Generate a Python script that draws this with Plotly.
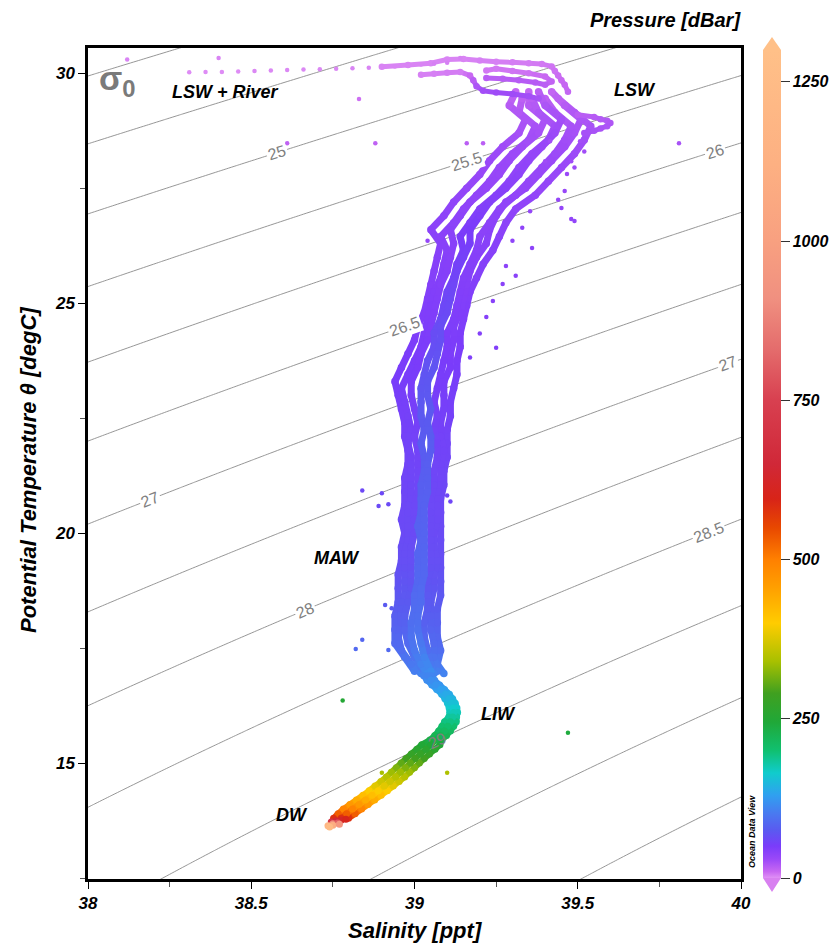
import numpy as np
import plotly.graph_objects as go
from plotly.colors import sample_colorscale

# ---------------- data ----------------
# main thermocline band (T > 17 degC): two interleaved temperature grids
T_grid_a = [29.6, 29.3, 29.0, 28.7, 28.4, 28.1, 27.8, 27.5, 27.2, 26.9, 26.6, 26.3, 26.0, 25.7, 25.4,
            25.1, 24.8, 24.5, 24.2, 23.9, 23.6, 23.3, 23.0, 22.7, 22.4, 22.1, 21.8, 21.5, 21.2, 20.9,
            20.6, 20.3, 20.0, 19.7, 19.4, 19.1, 18.8, 18.5, 18.2, 17.9, 17.6, 17.3, 17.0]
T_grid_b = [29.45, 29.15, 28.85, 28.55, 28.25, 27.95, 27.65, 27.35, 27.05, 26.75, 26.45, 26.15, 25.85,
            25.55, 25.25, 24.95, 24.65, 24.35, 24.05, 23.75, 23.45, 23.15, 22.85, 22.55, 22.25, 21.95,
            21.65, 21.35, 21.05, 20.75, 20.45, 20.15, 19.85, 19.55, 19.25, 18.95, 18.65, 18.35, 18.05,
            17.75, 17.45, 17.15, 16.95]
P_grid_a = [12, 18, 22, 25, 28, 30, 32, 34, 36, 38, 40, 41, 42, 43, 44, 45, 46, 47, 48, 49, 50, 51, 52,
            53, 54, 55, 56, 57, 58, 59, 60, 61, 62, 64, 66, 68, 71, 74, 78, 83, 88, 96, 105]
P_grid_b = [15, 20, 24, 27, 29, 31, 33, 35, 37, 39, 40, 42, 43, 44, 45, 46, 47, 48, 49, 50, 51, 52, 53,
            54, 55, 56, 57, 58, 59, 60, 61, 62, 63, 65, 67, 70, 73, 76, 80, 85, 91, 100, 108]
P_grid_core = [16, 22, 26, 29, 32, 35, 38, 41, 44, 47, 50, 52, 54, 56, 58, 60, 62, 64, 66, 68, 70, 72,
               73, 74, 75, 76, 77, 78, 79, 80, 81, 82, 83, 84, 85, 86, 88, 90, 92, 95, 100, 108, 115]

S_cast1 = [39.31, 39.29, 39.34, 39.32, 39.27, 39.23, 39.20, 39.16, 39.12, 39.09, 39.05, 39.08, 39.07, 39.06,
           39.05, 39.04, 39.03, 39.01, 39.00, 38.98, 38.96, 38.94, 38.95, 38.96, 38.97, 38.97, 38.98, 38.98,
           38.97, 38.97, 38.97, 38.96, 38.97, 38.96, 38.96, 38.95, 38.95, 38.95, 38.94, 38.94, 38.94, 38.97, 39.00]
S_cast2 = [39.33, 39.32, 39.37, 39.35, 39.30, 39.26, 39.23, 39.19, 39.15, 39.12, 39.08, 39.10, 39.09, 39.08,
           39.06, 39.05, 39.04, 39.03, 39.02, 39.00, 38.98, 38.96, 38.97, 38.98, 38.99, 38.98, 38.99, 38.99,
           38.99, 38.99, 38.98, 38.98, 38.98, 38.97, 38.97, 38.97, 38.97, 38.96, 38.96, 38.95, 38.96, 38.99, 39.02]
S_cast3 = [39.35, 39.35, 39.40, 39.38, 39.33, 39.29, 39.26, 39.22, 39.17, 39.14, 39.11, 39.12, 39.11, 39.10,
           39.08, 39.07, 39.06, 39.05, 39.04, 39.02, 39.01, 38.99, 38.99, 39.00, 39.01, 39.00, 39.01, 39.01,
           39.01, 39.01, 39.00, 39.00, 39.00, 38.99, 38.99, 38.99, 38.99, 38.98, 38.97, 38.97, 38.98, 39.00, 39.03]
S_cast4 = [39.36, 39.38, 39.43, 39.41, 39.36, 39.32, 39.29, 39.25, 39.20, 39.17, 39.14, 39.15, 39.13, 39.12,
           39.10, 39.09, 39.08, 39.06, 39.06, 39.04, 39.03, 39.02, 39.02, 39.02, 39.03, 39.02, 39.03, 39.03,
           39.02, 39.02, 39.02, 39.01, 39.02, 39.01, 39.01, 39.01, 39.00, 39.00, 38.99, 38.99, 39.00, 39.02, 39.04]
S_cast5 = [39.38, 39.40, 39.45, 39.43, 39.39, 39.35, 39.32, 39.28, 39.23, 39.20, 39.17, 39.17, 39.15, 39.13,
           39.12, 39.11, 39.10, 39.08, 39.08, 39.07, 39.06, 39.04, 39.04, 39.05, 39.04, 39.05, 39.05, 39.04,
           39.04, 39.04, 39.03, 39.03, 39.03, 39.03, 39.03, 39.03, 39.02, 39.02, 39.01, 39.01, 39.02, 39.03, 39.05]
S_cast6 = [39.40, 39.43, 39.48, 39.46, 39.43, 39.39, 39.35, 39.31, 39.26, 39.23, 39.20, 39.19, 39.17, 39.15,
           39.14, 39.13, 39.12, 39.10, 39.10, 39.09, 39.08, 39.07, 39.06, 39.07, 39.06, 39.07, 39.07, 39.06,
           39.06, 39.05, 39.05, 39.05, 39.05, 39.05, 39.05, 39.04, 39.04, 39.04, 39.03, 39.03, 39.04, 39.05, 39.06]
S_cast7 = [39.42, 39.46, 39.51, 39.49, 39.46, 39.42, 39.38, 39.34, 39.28, 39.25, 39.23, 39.22, 39.19, 39.17,
           39.16, 39.15, 39.14, 39.12, 39.12, 39.11, 39.11, 39.09, 39.09, 39.09, 39.08, 39.08, 39.09, 39.08,
           39.08, 39.07, 39.07, 39.07, 39.06, 39.06, 39.07, 39.06, 39.06, 39.05, 39.05, 39.05, 39.06, 39.06, 39.07]
S_cast8 = [39.44, 39.49, 39.54, 39.52, 39.49, 39.45, 39.41, 39.37, 39.31, 39.28, 39.26, 39.24, 39.21, 39.19,
           39.17, 39.16, 39.15, 39.14, 39.14, 39.13, 39.13, 39.12, 39.11, 39.11, 39.10, 39.10, 39.10, 39.09,
           39.09, 39.08, 39.08, 39.08, 39.08, 39.08, 39.08, 39.08, 39.08, 39.07, 39.07, 39.07, 39.08, 39.07, 39.09]

# LIW -> deep water branch (T < 17 degC)
T_lower = [16.9, 16.8, 16.7, 16.6, 16.5, 16.4, 16.3, 16.2, 16.1, 16.0, 15.9, 15.8, 15.7, 15.6, 15.5, 15.4,
           15.3, 15.2, 15.1, 15.0, 14.9, 14.8, 14.7, 14.6, 14.5, 14.4, 14.3, 14.2, 14.1, 14.0, 13.9, 13.8]
P_lower = [110, 116, 122, 130, 138, 146, 155, 164, 173, 183, 193, 203, 213, 223, 234, 246,
           260, 275, 290, 305, 320, 335, 350, 365, 380, 398, 418, 440, 465, 495, 530, 580]
S_lower_a = [39.028, 39.038, 39.053, 39.068, 39.083, 39.093, 39.101, 39.106, 39.108, 39.105, 39.092, 39.084,
             39.074, 39.062, 39.047, 39.022, 39.007, 38.990, 38.974, 38.959, 38.944, 38.929, 38.914, 38.897,
             38.879, 38.861, 38.842, 38.822, 38.802, 38.782, 38.766, 38.752]
S_lower_b = [39.040, 39.050, 39.065, 39.080, 39.095, 39.105, 39.113, 39.118, 39.120, 39.117, 39.110, 39.102,
             39.092, 39.080, 39.065, 39.050, 39.035, 39.018, 39.002, 38.987, 38.972, 38.957, 38.942, 38.925,
             38.907, 38.889, 38.870, 38.850, 38.830, 38.810, 38.792, 38.775]
S_lower_c = [39.052, 39.062, 39.077, 39.092, 39.107, 39.117, 39.125, 39.130, 39.132, 39.129, 39.128, 39.120,
             39.110, 39.098, 39.083, 39.078, 39.063, 39.046, 39.030, 39.015, 39.000, 38.985, 38.970, 38.953,
             38.935, 38.917, 38.898, 38.878, 38.858, 38.838, 38.818, 38.798]

# deepest end of the profiles (DW)
S_deep = [38.745, 38.760, 38.775, 38.790, 38.750, 38.765, 38.735, 38.750, 38.770, 38.740]
T_deep = [13.72, 13.74, 13.76, 13.78, 13.68, 13.70, 13.64, 13.65, 13.67, 13.61]
P_deep = [700, 650, 620, 600, 900, 800, 1200, 1100, 950, 1250]

# surface layer: LSW + river streak
S_surf = [38.31, 38.36, 38.41, 38.46, 38.51, 38.56, 38.61, 38.66, 38.71, 38.76, 38.81, 38.86, 38.90, 38.94,
          38.98, 39.02, 39.06, 39.10]
T_surf = [30.02, 30.03, 30.03, 30.04, 30.05, 30.06, 30.07, 30.08, 30.09, 30.10, 30.11, 30.12, 30.14, 30.15,
          30.17, 30.19, 30.21, 30.23]
P_surf = [1, 1, 1, 1, 2, 2, 2, 2, 2, 2, 3, 3, 3, 3, 3, 3, 4, 4]

# warm surface loops above the band
S_top1 = [38.90, 38.98, 39.05, 39.10, 39.15, 39.20, 39.25, 39.30, 39.35, 39.39, 39.42, 39.43, 39.44, 39.45, 39.46, 39.47]
T_top1 = [30.14, 30.18, 30.22, 30.30, 30.31, 30.28, 30.25, 30.24, 30.22, 30.20, 30.15, 30.05, 29.95, 29.85, 29.75, 29.60]
P_top1 = [3, 3, 3, 3, 3, 4, 4, 5, 5, 6, 7, 8, 9, 10, 11, 12]
S_top2 = [39.02, 39.06, 39.10, 39.14, 39.17, 39.18, 39.19, 39.21, 39.25, 39.30, 39.35, 39.38]
T_top2 = [29.97, 29.99, 30.01, 30.03, 29.95, 29.85, 29.72, 29.62, 29.58, 29.55, 29.50, 29.45]
P_top2 = [4, 4, 5, 5, 10, 16, 22, 26, 28, 28, 26, 24]
S_top3 = [39.22, 39.25, 39.30, 39.35, 39.40, 39.42, 39.40, 39.37, 39.32, 39.27, 39.22]
T_top3 = [30.06, 30.10, 30.05, 30.00, 29.93, 29.82, 29.75, 29.80, 29.85, 29.88, 29.90]
P_top3 = [6, 6, 7, 8, 10, 13, 16, 18, 18, 17, 16]

# LSW salinity maximum tongue
S_tongue = [39.50, 39.55, 39.57, 39.59, 39.60, 39.59, 39.57, 39.55, 39.52]
T_tongue = [29.10, 29.05, 29.00, 28.97, 28.92, 28.85, 28.80, 28.75, 28.70]
P_tongue = [16, 18, 19, 20, 21, 22, 23, 24, 25]

# dotted trails right of the band
S_trail = [39.507, 39.48, 39.467, 39.46, 39.45, 39.48, 39.49, 39.415, 39.40, 39.384, 39.354, 39.33, 39.30,
           39.28, 39.27, 39.24, 39.20, 39.25, 39.17, 39.52, 39.49, 39.44, 39.36, 39.31, 39.22]
T_trail = [28.52, 28.09, 27.81, 27.44, 27.07, 26.83, 26.79, 28.52, 28.09, 27.44, 27.00, 26.64, 26.36,
           25.81, 25.42, 25.05, 24.34, 24.03, 23.82, 28.30, 27.95, 27.25, 26.20, 25.60, 24.70]
P_trail = [26, 28, 30, 32, 34, 35, 35, 26, 28, 32, 34, 36, 37, 39, 40, 41, 44, 45, 46, 27, 29, 33, 38,
           40, 43]

# isolated points
S_iso = [38.12, 38.40, 39.14, 38.83, 38.61, 38.88, 39.16, 39.21, 39.81, 39.04, 38.84, 38.90, 38.89, 38.92,
         38.91, 38.93, 38.84, 38.82, 38.92, 39.10, 39.11, 38.78, 38.90, 39.10, 39.47]
T_iso = [30.30, 30.33, 30.33, 29.44, 28.48, 28.48, 28.48, 28.48, 28.48, 26.36, 20.93, 20.87, 20.59, 20.63,
         18.44, 18.37, 17.68, 17.48, 17.46, 20.82, 20.69, 16.36, 14.79, 14.79, 15.66]
P_iso = [3, 3, 4, 8, 14, 14, 16, 16, 24, 34, 60, 60, 62, 62, 75, 75, 85, 88, 88, 58, 58, 250, 340, 345, 240]

# isopycnal labels: (salinity position, sigma value, shown text)
LABEL_S = [38.58, 39.16, 39.92, 38.97, 38.19, 39.96, 38.665, 39.90, 39.07]
LABEL_SIG = [25.0, 25.5, 26.0, 26.5, 27.0, 27.5, 28.0, 28.5, 29.0]
LABEL_TXT = ["25", "25.5", "26", "26.5", "27", "27", "28", "28.5", "29"]

CB_TICKS = [0, 250, 500, 750, 1000, 1250]

# ---------------- layout constants ----------------
W, H = 830, 947
LPX, RPX, TPX, BPX = 88, 741, 48, 879
XR = [38.0, 40.0]
YR = [12.48, 30.55]
PMAX = 1300
FONT = "Liberation Sans Narrow, Arial Narrow, Liberation Sans, Arial, sans-serif"
CS = [[0 / 1300, "#e090f5"], [10 / 1300, "#c868f2"], [30 / 1300, "#9a48f8"], [50 / 1300, "#7a3cfa"],
      [75 / 1300, "#5a5af0"], [100 / 1300, "#4a78f0"], [130 / 1300, "#30a0f0"], [165 / 1300, "#10cccc"],
      [200 / 1300, "#10c070"], [245 / 1300, "#20a838"], [290 / 1300, "#40a020"], [340 / 1300, "#a8c000"],
      [400 / 1300, "#ffcc00"], [455 / 1300, "#ffa000"], [500 / 1300, "#ff8000"], [550 / 1300, "#e84800"],
      [595 / 1300, "#d82418"], [650 / 1300, "#d02838"], [750 / 1300, "#d84050"], [830 / 1300, "#e46c6c"],
      [910 / 1300, "#f09080"], [1000 / 1300, "#f8a080"], [1120 / 1300, "#fdb082"], [1.0, "#ffc088"]]


def sigma0(S, T):
    S = np.asarray(S, dtype=float)
    T = np.asarray(T, dtype=float)
    rw = (999.842594 + 6.793952e-2 * T - 9.095290e-3 * T**2 + 1.001685e-4 * T**3
          - 1.120083e-6 * T**4 + 6.536332e-9 * T**5)
    A = 0.824493 - 4.0899e-3 * T + 7.6438e-5 * T**2 - 8.2467e-7 * T**3 + 5.3875e-9 * T**4
    B = -5.72466e-3 + 1.0227e-4 * T - 1.6546e-6 * T**2
    return rw + A * S + B * S**1.5 + 4.8314e-4 * S**2 - 1000.0


def temp_on_isopycnal(S, sig):
    lo, hi = 0.0, 40.0
    for _ in range(60):
        mid = 0.5 * (lo + hi)
        if sigma0(S, mid) > sig:
            lo = mid
        else:
            hi = mid
    return 0.5 * (lo + hi)


fig = go.Figure()

# isopycnals
Sg = np.linspace(37.8, 40.2, 241)
Tg = np.linspace(11.5, 31.5, 201)
SS, TT = np.meshgrid(Sg, Tg)
fig.add_trace(go.Contour(x=Sg, y=Tg, z=sigma0(SS, TT), showscale=False, hoverinfo="skip",
                         contours=dict(start=23.0, end=31.0, size=0.5, coloring="lines", showlabels=False),
                         colorscale=[[0, "#8a8a8a"], [1, "#8a8a8a"]], line=dict(width=0.9)))


def add_pts(S, T, P, size):
    fig.add_trace(go.Scatter(x=S, y=T, mode="markers", hoverinfo="skip",
                             marker=dict(color=P, coloraxis="coloraxis", size=size, line=dict(width=0))))


def add_profile(S, T, P, lw, ms):
    for i in range(len(S) - 1):
        c = sample_colorscale(CS, [min((P[i] + P[i + 1]) / 2 / PMAX, 1.0)])[0]
        fig.add_trace(go.Scatter(x=S[i:i + 2], y=T[i:i + 2], mode="lines", hoverinfo="skip",
                                 line=dict(color=c, width=lw)))
    add_pts(S, T, P, ms)


LW, MS = 7, 7.5
add_profile(S_cast1, T_grid_a, P_grid_a, LW, MS)
add_profile(S_cast2, T_grid_b, P_grid_b, LW, MS)
add_profile(S_cast3, T_grid_a, P_grid_a, LW, MS)
add_profile(S_cast8, T_grid_b, P_grid_b, LW, MS)
add_profile(S_cast7, T_grid_a, P_grid_a, LW, MS)
add_profile(S_cast6, T_grid_b, P_grid_b, LW, MS)
add_profile(S_cast4, T_grid_b, P_grid_core, LW, MS)
add_profile(S_cast5, T_grid_a, P_grid_core, LW, MS)
add_profile(S_top1, T_top1, P_top1, 5, 6.5)
add_profile(S_top2, T_top2, P_top2, 5, 6.5)
add_profile(S_top3, T_top3, P_top3, 5, 6.5)
add_profile(S_tongue, T_tongue, P_tongue, 5, 6.5)
add_pts(S_surf, T_surf, P_surf, 4.5)
add_pts(S_trail, T_trail, P_trail, 4.5)
add_pts(S_iso, T_iso, P_iso, 4.5)
add_profile(S_lower_a, T_lower, P_lower, 6, 7)
add_profile(S_lower_c, T_lower, P_lower, 6, 7)
add_profile(S_lower_b, T_lower, P_lower, 6, 7)
add_pts(S_deep, T_deep, P_deep, 7)

# ---------------- annotations ----------------
ann = []
pxS = (RPX - LPX) / (XR[1] - XR[0])
pyT = (BPX - TPX) / (YR[1] - YR[0])
for s, sg, txt in zip(LABEL_S, LABEL_SIG, LABEL_TXT):
    t = temp_on_isopycnal(s, sg)
    t2 = temp_on_isopycnal(s + 0.01, sg)
    ang = np.degrees(np.arctan((t2 - t) / 0.01 * pyT / pxS))
    ann.append(dict(x=s, y=t, xref="x", yref="y", text=txt, showarrow=False, textangle=-ang,
                    xanchor="center", yanchor="middle",
                    font=dict(family="Liberation Sans, Arial, sans-serif", size=16, color="#808080"),
                    bgcolor="white" if txt != "29" else "rgba(0,0,0,0)", borderpad=1))

bi = dict(family=FONT, color="black", weight="bold", style="italic")
for txt, s, t in [("LSW + River", 38.42, 29.59), ("LSW", 39.675, 29.64), ("MAW", 38.763, 19.46),
                  ("LIW", 39.256, 16.07), ("DW", 38.625, 13.87)]:
    ann.append(dict(x=s, y=t, xref="x", yref="y", text=txt, showarrow=False, xanchor="center",
                    yanchor="middle", font=dict(bi, size=18)))


def px2paper(px, py):
    return (px - LPX) / (RPX - LPX), (BPX - py) / (BPX - TPX)


def paper_text(px, py, text, font, angle=0):
    x0, y0 = px2paper(px, py)
    ann.append(dict(x=x0, y=y0, xref="paper", yref="paper", text=text, showarrow=False, textangle=angle,
                    xanchor="center", yanchor="middle", font=font))


paper_text(117, 80, "σ<sub>0</sub>",
           dict(family="Liberation Sans, Arial, sans-serif", size=34, color="#7a7a7a", weight="bold"))
paper_text(665, 20, "Pressure [dBar]", dict(bi, size=20))
paper_text(415, 930, "Salinity [ppt]", dict(bi, size=22))
paper_text(28, 470, "Potential Temperature θ [degC]", dict(bi, size=22), -90)
paper_text(752, 832, "Ocean Data View", dict(bi, size=9), -90)

# colour-bar extension triangles
cb_l, cb_r, cb_top, cb_bot = 763, 781, 50, 878
shapes = []
a = px2paper(cb_l, cb_top); b = px2paper(cb_r, cb_top); c = px2paper((cb_l + cb_r) / 2, cb_top - 13)
shapes.append(dict(type="path", xref="paper", yref="paper", fillcolor=CS[-1][1], line=dict(width=0),
                   path=f"M{a[0]},{a[1]} L{b[0]},{b[1]} L{c[0]},{c[1]} Z"))
a = px2paper(cb_l, cb_bot); b = px2paper(cb_r, cb_bot); c = px2paper((cb_l + cb_r) / 2, cb_bot + 14)
shapes.append(dict(type="path", xref="paper", yref="paper", fillcolor="#d880f0", line=dict(width=0),
                   path=f"M{a[0]},{a[1]} L{b[0]},{b[1]} L{c[0]},{c[1]} Z"))

tickf = dict(family=FONT, size=17, color="black", weight="bold", style="italic")
cbx, _ = px2paper(cb_l, 0)
_, cby = px2paper(0, (cb_top + cb_bot) / 2)

fig.update_layout(
    width=W, height=H, margin=dict(l=LPX, r=W - RPX, t=TPX, b=H - BPX, autoexpand=False),
    paper_bgcolor="white", plot_bgcolor="white", showlegend=False,
    xaxis=dict(range=XR, tickvals=[38, 38.5, 39, 39.5, 40], ticktext=["38", "38.5", "39", "39.5", "40"],
               ticks="outside", ticklen=7, tickcolor="black", tickwidth=1,
               minor=dict(tickvals=[38.25, 38.75, 39.25, 39.75], ticks="outside", ticklen=5, tickcolor="#555"),
               showgrid=False, zeroline=False, showline=True, mirror=True, linewidth=2.5, linecolor="black",
               tickfont=tickf),
    yaxis=dict(range=YR, tickvals=[15, 20, 25, 30], ticks="outside", ticklen=7, tickcolor="black",
               minor=dict(tickvals=[12.5, 17.5, 22.5, 27.5], ticks="outside", ticklen=5, tickcolor="#555"),
               showgrid=False, zeroline=False, showline=True, mirror=True, linewidth=2.5, linecolor="black",
               tickfont=tickf),
    coloraxis=dict(cmin=0, cmax=PMAX, colorscale=CS,
                   colorbar=dict(x=cbx, xanchor="left", xpad=0, y=cby, yanchor="middle", ypad=0,
                                 len=cb_bot - cb_top, lenmode="pixels", thickness=cb_r - cb_l,
                                 thicknessmode="pixels", outlinewidth=0, tickvals=CB_TICKS,
                                 ticks="outside", ticklen=9, tickcolor="#333", tickfont=dict(tickf, size=16))),
    annotations=ann, shapes=shapes,
)

fig.write_html("out.html")
